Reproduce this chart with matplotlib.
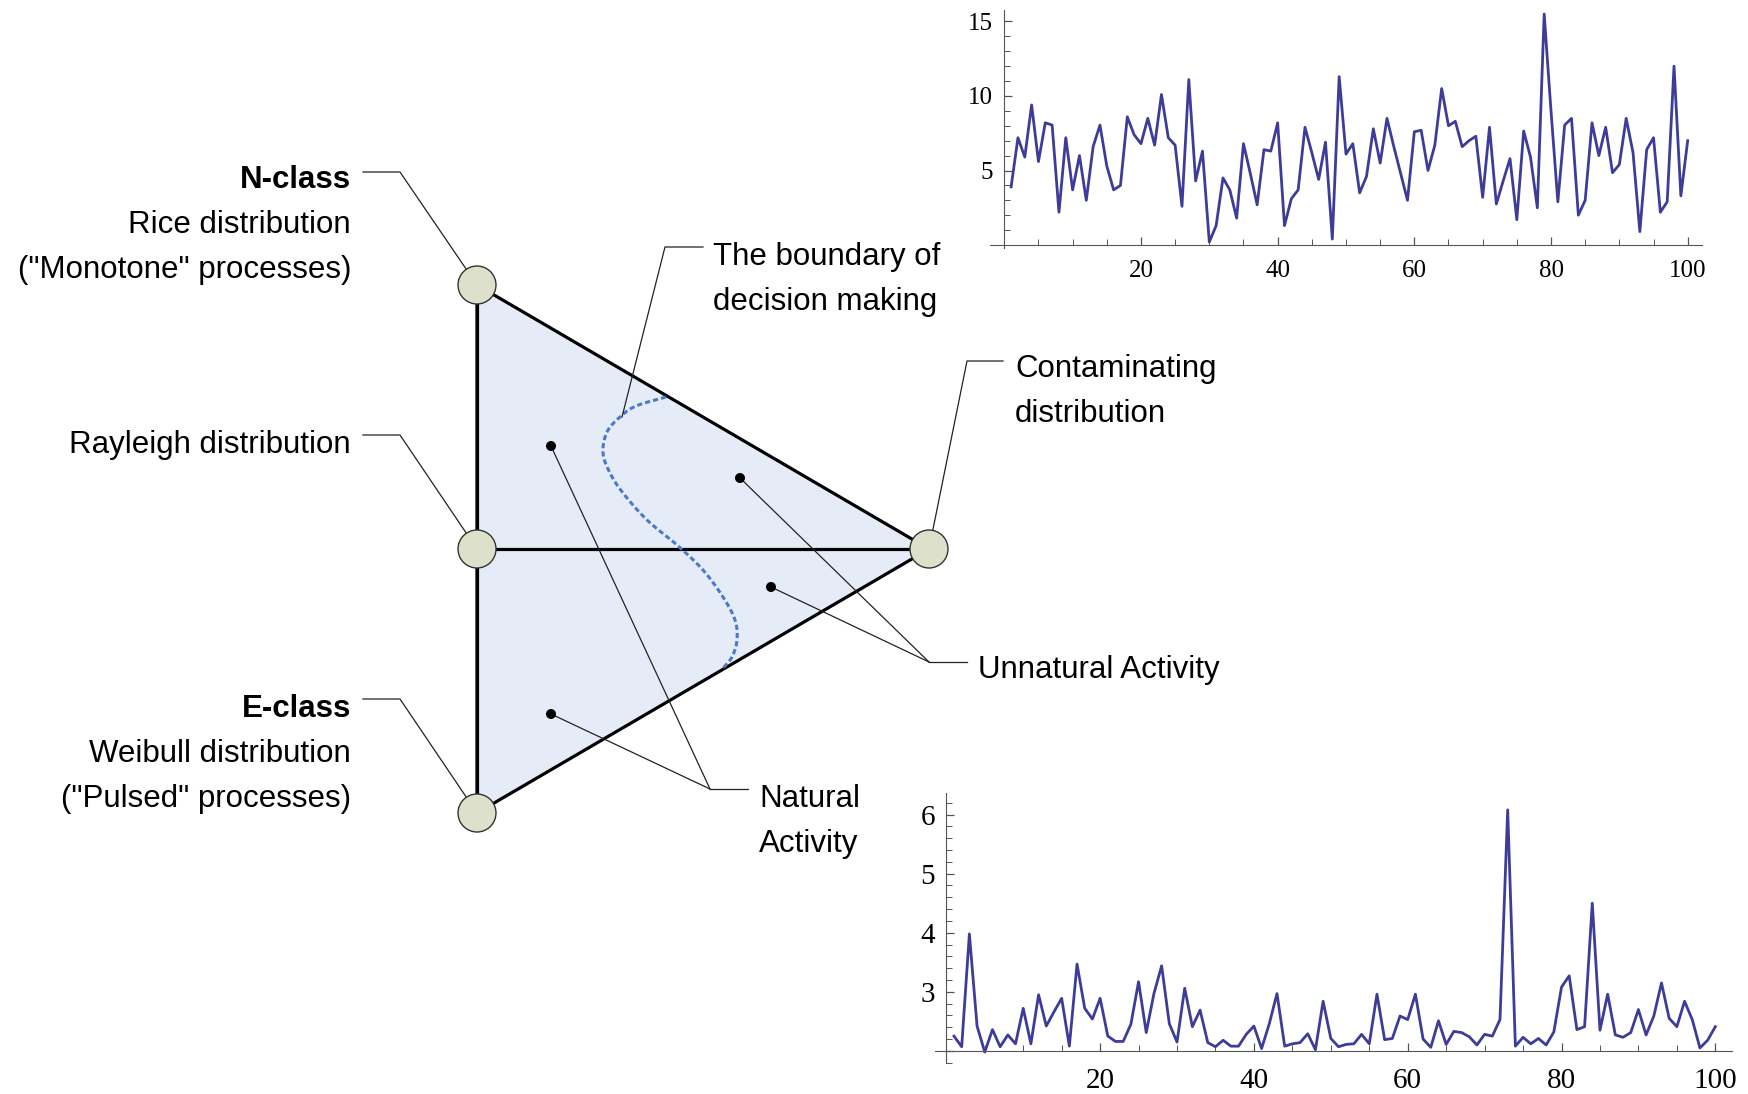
import numpy as np
import matplotlib.pyplot as plt
from matplotlib.patches import Circle, Polygon
from matplotlib.ticker import MultipleLocator, FixedLocator

plt.rcParams['font.family'] = ['Liberation Sans', 'DejaVu Sans']

# time series (100 steps each)
steps = np.arange(1, 101)
top_vals = [3.9, 7.2, 5.9, 9.4, 5.6, 8.2, 8.05, 2.2, 7.2, 3.7,
            6.0, 3.0, 6.6, 8.05, 5.3, 3.7, 4.0, 8.6, 7.4, 6.8,
            8.5, 6.7, 10.1, 7.2, 6.7, 2.6, 11.1, 4.3, 6.3, 0.2,
            1.3, 4.5, 3.7, 1.8, 6.8, 4.8, 2.7, 6.4, 6.3, 8.2,
            1.3, 3.1, 3.7, 7.9, 6.2, 4.4, 6.9, 0.4, 11.3, 6.1,
            6.8, 3.5, 4.6, 7.8, 5.5, 8.5, 6.6, 4.8, 3.0, 7.6,
            7.7, 5.0, 6.7, 10.5, 8.0, 8.3, 6.6, 7.0, 7.3, 3.2,
            7.9, 2.75, 4.3, 5.8, 1.7, 7.65, 5.9, 2.5, 15.5, 9.0,
            2.9, 8.05, 8.5, 2.0, 3.0, 8.2, 6.0, 7.9, 4.85, 5.4,
            8.5, 6.2, 0.9, 6.4, 7.2, 2.2, 2.9, 12.0, 3.3, 7.0]
bot_vals = [2.25, 2.07, 3.98, 2.42, 1.98, 2.36, 2.07, 2.27, 2.12, 2.72,
            2.12, 2.95, 2.42, 2.66, 2.89, 2.08, 3.47, 2.72, 2.54, 2.89,
            2.25, 2.16, 2.16, 2.45, 3.17, 2.31, 2.97, 3.44, 2.46, 2.15,
            3.06, 2.41, 2.69, 2.14, 2.07, 2.18, 2.08, 2.08, 2.28, 2.42,
            2.04, 2.46, 2.97, 2.08, 2.12, 2.14, 2.29, 2.02, 2.84, 2.21,
            2.07, 2.11, 2.12, 2.28, 2.12, 2.96, 2.19, 2.21, 2.59, 2.53,
            2.96, 2.20, 2.06, 2.51, 2.11, 2.33, 2.31, 2.24, 2.10, 2.28,
            2.25, 2.53, 6.08, 2.08, 2.23, 2.12, 2.21, 2.10, 2.32, 3.08,
            3.27, 2.36, 2.41, 4.50, 2.35, 2.96, 2.27, 2.23, 2.31, 2.70,
            2.27, 2.59, 3.15, 2.55, 2.41, 2.84, 2.53, 2.05, 2.18, 2.41]
x_ticks = [20, 40, 60, 80, 100]
top_yticks = [5, 10, 15]
bot_yticks = [3, 4, 5, 6]

left_labels = [("N-class", 188, 'bold'),
               ("Rice distribution", 233, 'normal'),
               ('("Monotone" processes)', 278, 'normal'),
               ("Rayleigh distribution", 453, 'normal'),
               ("E-class", 717, 'bold'),
               ("Weibull distribution", 762, 'normal'),
               ('("Pulsed" processes)', 807, 'normal')]
right_labels = [("The boundary of", 713, 265), ("decision making", 713, 310),
                ("Contaminating", 1015, 377), ("distribution", 1015, 422),
                ("Unnatural Activity", 978, 678),
                ("Natural", 759, 807), ("Activity", 759, 852)]

fig = plt.figure(figsize=(17.48, 10.94), dpi=100)
ax = fig.add_axes([0, 0, 1, 1])
ax.set_xlim(0, 1748)
ax.set_ylim(1094, 0)
ax.axis('off')

N = (477, 285); M = (477, 549); E = (477, 813); C = (929, 549)
R = 19

ax.add_patch(Polygon([N, C, E], closed=True, facecolor='#e6ecf7', edgecolor='black', lw=2.3, zorder=1))
ax.plot([M[0], C[0]], [M[1], C[1]], color='black', lw=2.3, zorder=2)
ax.plot([N[0], E[0]], [N[1], E[1]], color='black', lw=2.3, zorder=2)

def catmull(pts, n=20):
    p = np.asarray(pts, float)
    p = np.vstack([p[0], p, p[-1]])
    out = []
    t = np.linspace(0, 1, n, endpoint=False)[:, None]
    for k in range(1, len(p) - 2):
        p0, p1, p2, p3 = p[k-1], p[k], p[k+1], p[k+2]
        out.append(0.5*(2*p1 + (-p0+p2)*t + (2*p0-5*p1+4*p2-p3)*t**2 + (-p0+3*p1-3*p2+p3)*t**3))
    out.append(p[-2][None])
    return np.vstack(out)

bnd = [(666, 397), (636, 406), (620, 417), (607, 432), (603, 453), (610, 473), (623, 493),
       (647, 520), (677, 545), (703, 570), (723, 597), (735, 620), (737, 640), (732, 657), (723, 668)]
cv = catmull(bnd)
ax.plot(cv[:, 0], cv[:, 1], color='#4a7bc8', lw=2.2, ls=(0, (1.7, 1.0)), zorder=3)

lk = dict(color='#222222', lw=0.9, zorder=4)

def edge(start, center):
    d = np.array(center, float) - np.array(start, float)
    d = d / np.hypot(*d)
    return np.array(center) - R * d

# left leaders
for (hy, c) in [(172, N), (435, M), (699, E)]:
    e = edge((400, hy), c)
    ax.plot([363, 400, e[0]], [hy, hy, e[1]], **lk)

# contaminating
e = edge((967, 361), C)
ax.plot([1003, 967, e[0]], [361, 361, e[1]], **lk)
# boundary
ax.plot([703, 665, 622], [247, 247, 417], **lk)
# unnatural
dots_u = [(740, 478), (771, 587)]
for d in dots_u:
    ax.plot([d[0], 929], [d[1], 662], **lk)
ax.plot([929, 967], [662, 662], **lk)
# natural
dots_n = [(551, 446), (551, 714)]
for d in dots_n:
    ax.plot([d[0], 710], [d[1], 789], **lk)
ax.plot([710, 748], [789, 789], **lk)

for d in dots_u + dots_n:
    ax.add_patch(Circle(d, 5, facecolor='black', edgecolor='none', zorder=5))

for c in [N, M, E, C]:
    ax.add_patch(Circle(c, R, facecolor='#dde1cc', edgecolor='#333333', lw=1.0, zorder=6))

for txt, y, w in left_labels:
    ax.text(351, y, txt, ha='right', va='baseline', fontsize=22.5, fontweight=w, color='black')
for txt, x, y in right_labels:
    ax.text(x, y, txt, ha='left', va='baseline', fontsize=22.5, color='black')

def style(a, xmaj, ymaj, ymin_step, fs, xpad, ypad):
    for s in ['top', 'right']:
        a.spines[s].set_visible(False)
    a.spines['left'].set_position(('data', 0))
    a.spines['left'].set_color('#555555')
    a.spines['bottom'].set_color('#555555')
    a.patch.set_alpha(0)
    a.xaxis.set_major_locator(FixedLocator(xmaj))
    a.xaxis.set_minor_locator(MultipleLocator(5))
    a.yaxis.set_major_locator(FixedLocator(ymaj))
    a.yaxis.set_minor_locator(MultipleLocator(ymin_step))
    a.tick_params(which='both', direction='in', color='#555555')
    a.tick_params(which='major', length=6, width=0.9)
    a.tick_params(which='minor', length=4, width=0.7)
    a.tick_params(axis='x', pad=xpad, labelsize=fs)
    a.tick_params(axis='y', pad=ypad, labelsize=fs)
    for lab in a.get_xticklabels() + a.get_yticklabels():
        lab.set_family('Liberation Serif')

# top series
a1 = fig.add_axes([990/1748, (1094-248)/1094, 711.7/1748, 238/1094])
a1.plot(steps, top_vals, color='#3d3d99', lw=2.0)
a1.set_xlim(-2.09, 102.05)
a1.set_ylim(-0.2, 15.77)
a1.spines['bottom'].set_position(('data', 0))
style(a1, x_ticks, top_yticks, 1, 18, 11, 8)

# bottom series
a2 = fig.add_axes([935/1748, (1094-1062.7)/1094, 796.7/1748, 269.4/1094])
a2.plot(steps, bot_vals, color='#3d3d99', lw=2.0)
a2.set_xlim(-1.47, 102.13)
a2.set_ylim(1.8, 6.36)
a2.spines['bottom'].set_position(('data', 2))
style(a2, x_ticks, [2] + bot_yticks, 0.2, 21, 12, 8)
a2.set_yticklabels([''] + [str(v) for v in bot_yticks])
for lab in a2.get_yticklabels():
    lab.set_family('Liberation Serif')

fig.savefig('out.png', dpi=100)
